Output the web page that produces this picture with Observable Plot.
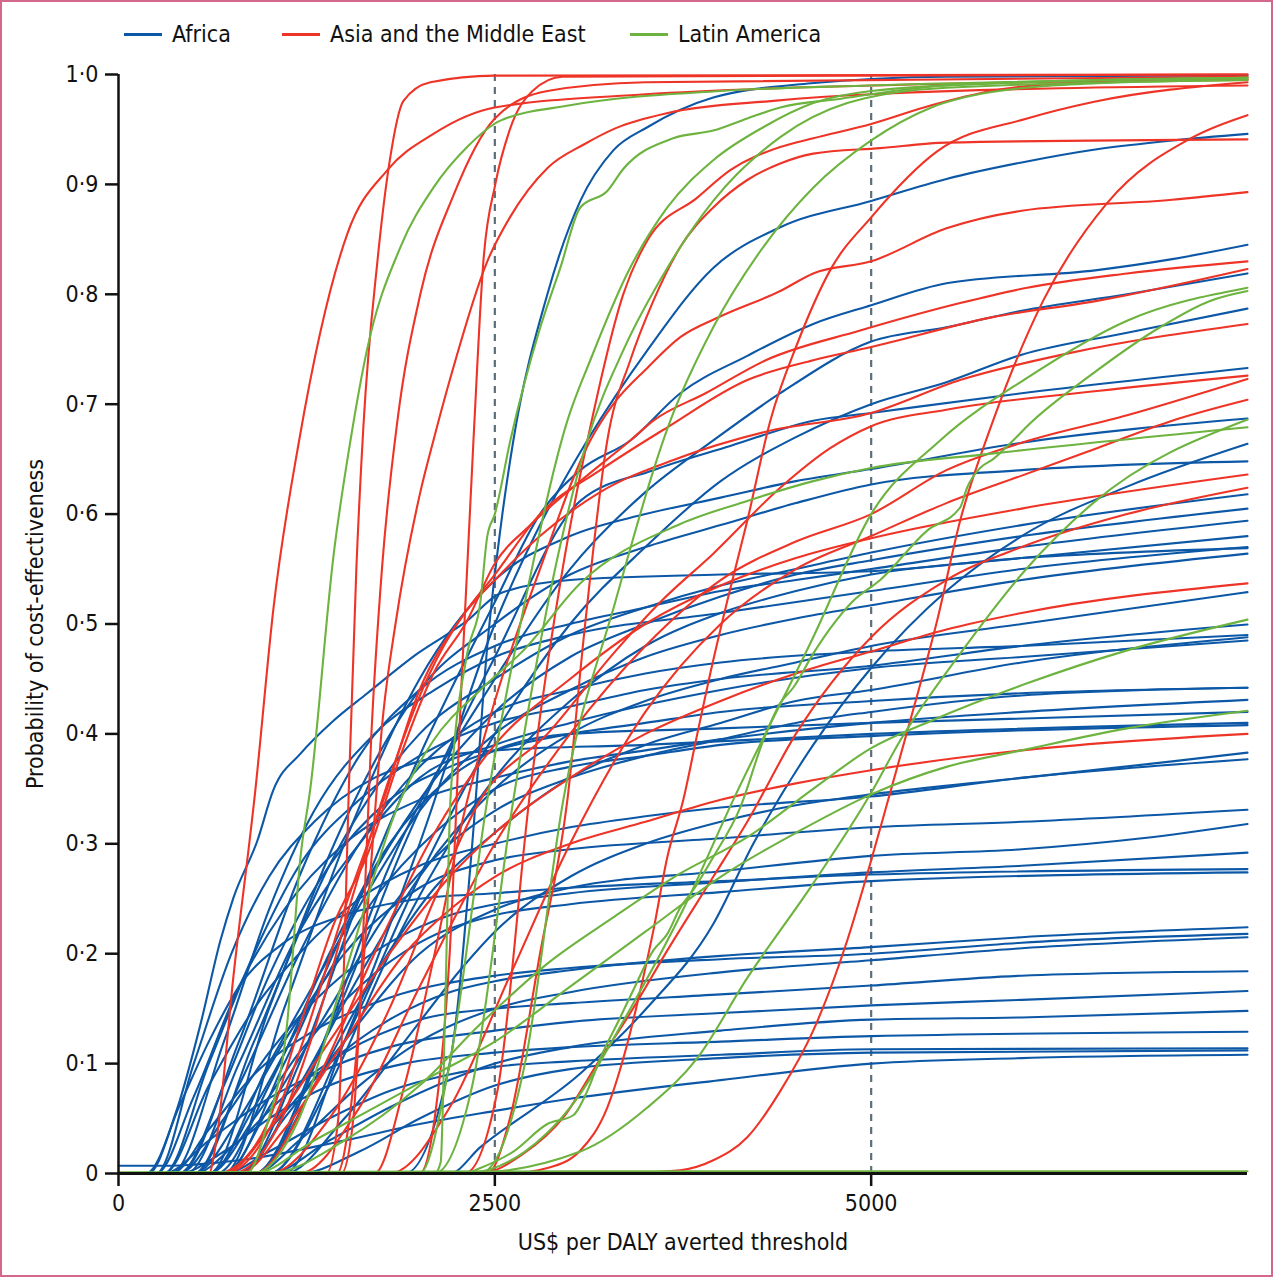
<!DOCTYPE html>
<html><head><meta charset="utf-8">
<script src="https://cdn.jsdelivr.net/npm/d3@7"></script>
<script src="https://cdn.jsdelivr.net/npm/@observablehq/plot@0.6"></script>
<style>
body{margin:0;background:#fff;}
#wrap{position:relative;width:1273px;height:1277px;overflow:hidden;background:#fff;font-family:"DejaVu Sans Condensed","Liberation Sans Narrow",sans-serif;color:#111;}
#frame{position:absolute;left:0;top:0;width:1273px;height:1277px;box-sizing:border-box;border:2px solid #d3688a;pointer-events:none;}
#legend{position:absolute;left:0;top:0;width:1273px;height:56px;}
.item{position:absolute;top:18px;height:32px;display:flex;align-items:center;font-size:23px;}
.sw{display:inline-block;width:38px;height:3px;margin-right:10px;}
#chart{position:absolute;left:0;top:56px;}
</style></head>
<body><div id="wrap"><div id="legend"></div><div id="chart"></div><div id="frame"></div></div>
<script>
const regions = ["Africa", "Asia and the Middle East", "Latin America"];
const regionColors = ["#0d58a6", "#ee3427", "#6db33f"];
const xTicks = [0, 2500, 5000];
const yTicks = [0, 0.1, 0.2, 0.3, 0.4, 0.5, 0.6, 0.7, 0.8, 0.9, 1.0];
const refThresholds = [2500, 5000];

// Africa curves: [threshold, probability] points
const africa = [
 [[1900,0],[2200,0.1],[2350,0.3],[2450,0.48],[2550,0.6],[2623,0.667],[2849,0.8],[3068,0.885],[3287,0.931],[3513,0.952],[3951,0.979],[4600,0.992],[5500,0.998],[7500,0.999]],
 [[1100,0],[1500,0.12],[2000,0.3],[2500,0.5],[2800,0.59],[3114,0.667],[3513,0.749],[3951,0.824],[4396,0.861],[5000,0.885],[5500,0.905],[6000,0.92],[6500,0.932],[7000,0.94],[7500,0.946]],
 [[800,0],[1200,0.1],[1600,0.25],[2000,0.38],[2500,0.52],[2800,0.6],[3068,0.64],[3400,0.667],[3732,0.71],[4177,0.744],[4615,0.773],[5000,0.79],[5500,0.81],[6500,0.822],[7000,0.832],[7500,0.845]],
 [[900,0],[1300,0.1],[1800,0.28],[2500,0.45],[3000,0.55],[3500,0.62],[3951,0.667],[4396,0.71],[5000,0.757],[5500,0.77],[6000,0.785],[6700,0.8],[7500,0.819]],
 [[1000,0],[1500,0.12],[2000,0.27],[2500,0.4],[3000,0.5],[3500,0.57],[4000,0.63],[4500,0.67],[5000,0.70],[5500,0.72],[6000,0.745],[6700,0.765],[7500,0.787]],
 [[900,0],[1400,0.13],[1900,0.3],[2500,0.47],[3068,0.612],[3553,0.64],[4064,0.662],[4615,0.685],[5000,0.692],[6000,0.71],[7500,0.733]],
 [[700,0],[1100,0.15],[1500,0.3],[2000,0.45],[2500,0.54],[3000,0.58],[3500,0.6],[4000,0.615],[4500,0.63],[5000,0.641],[6000,0.665],[7500,0.687]],
 [[600,0],[1000,0.15],[1500,0.32],[2000,0.44],[2500,0.5],[3000,0.545],[3500,0.57],[4000,0.59],[4500,0.61],[5000,0.627],[6000,0.64],[7500,0.648]],
 [[2200,0],[2404,0.024],[3068,0.091],[3513,0.151],[3951,0.227],[4217,0.3],[4615,0.39],[5000,0.46],[5500,0.53],[6000,0.58],[6700,0.625],[7500,0.664]],
 [[500,0],[900,0.12],[1400,0.28],[2000,0.4],[2500,0.45],[3000,0.49],[3500,0.515],[4000,0.535],[4500,0.55],[5000,0.565],[6000,0.59],[7500,0.618]],
 [[700,0],[1100,0.1],[1600,0.25],[2000,0.34],[2500,0.42],[3000,0.47],[3500,0.5],[4000,0.525],[4500,0.545],[5000,0.558],[6000,0.58],[7500,0.605]],
 [[400,0],[800,0.12],[1200,0.27],[1600,0.38],[2000,0.44],[2500,0.48],[3000,0.5],[3500,0.515],[4000,0.53],[4500,0.54],[5000,0.55],[6000,0.57],[7500,0.594]],
 [[1000,0],[1400,0.08],[1800,0.2],[2200,0.3],[2500,0.36],[3000,0.43],[3500,0.48],[4000,0.51],[4500,0.53],[5000,0.545],[6000,0.56],[7500,0.58]],
 [[180,0],[392,0.06],[545,0.136],[677,0.212],[764,0.251],[923,0.303],[1029,0.349],[1209,0.382],[1428,0.412],[1653,0.437],[1985,0.473],[2317,0.503],[2537,0.528],[3000,0.54],[4000,0.545],[5000,0.548],[6000,0.56],[7500,0.569]],
 [[600,0],[1000,0.1],[1500,0.22],[2000,0.33],[2500,0.4],[3000,0.44],[3500,0.47],[4000,0.49],[4500,0.505],[5000,0.517],[6000,0.54],[7500,0.564]],
 [[800,0],[1200,0.08],[1600,0.18],[2000,0.27],[2500,0.35],[3000,0.4],[3500,0.43],[4000,0.45],[4500,0.465],[5000,0.48],[6000,0.5],[7500,0.529]],
 [[300,0],[600,0.1],[900,0.2],[1200,0.28],[1600,0.34],[2000,0.38],[2500,0.41],[3000,0.425],[3500,0.44],[4000,0.45],[5000,0.462],[6000,0.48],[7500,0.4995]],
 [[500,0],[800,0.08],[1200,0.2],[1600,0.3],[2000,0.37],[2500,0.42],[3000,0.44],[3500,0.455],[4000,0.465],[5000,0.475],[6000,0.48],[7500,0.49]],
 [[900,0],[1300,0.08],[1700,0.18],[2100,0.26],[2500,0.31],[3000,0.36],[3500,0.39],[4000,0.41],[4500,0.43],[5000,0.44],[6000,0.465],[7500,0.488]],
 [[400,0],[700,0.08],[1000,0.18],[1400,0.28],[1800,0.34],[2200,0.37],[2500,0.385],[3000,0.4],[3500,0.41],[4000,0.42],[5000,0.43],[6000,0.437],[7500,0.442]],
 [[700,0],[1000,0.06],[1400,0.15],[1800,0.24],[2200,0.3],[2500,0.33],[3000,0.36],[3500,0.38],[4000,0.395],[4500,0.41],[5000,0.42],[6000,0.435],[7500,0.442]],
 [[250,0],[500,0.07],[800,0.17],[1100,0.24],[1500,0.3],[2000,0.34],[2500,0.36],[3000,0.375],[3500,0.385],[4000,0.395],[5000,0.41],[6000,0.42],[7500,0.431]],
 [[600,0],[900,0.06],[1300,0.16],[1700,0.25],[2100,0.31],[2500,0.35],[3000,0.37],[3500,0.38],[4000,0.39],[5000,0.398],[7500,0.408]],
 [[1100,0],[1500,0.05],[1900,0.12],[2300,0.19],[2500,0.22],[3000,0.27],[3500,0.3],[4000,0.32],[4500,0.335],[5000,0.345],[6000,0.36],[7000,0.375],[7500,0.383]],
 [[300,0],[600,0.08],[900,0.15],[1200,0.2],[1600,0.25],[2000,0.28],[2500,0.3],[3000,0.315],[3500,0.325],[4000,0.333],[5000,0.343],[6000,0.36],[7500,0.377]],
 [[500,0],[800,0.05],[1100,0.12],[1500,0.2],[2000,0.26],[2500,0.285],[3000,0.295],[4000,0.305],[5000,0.315],[6000,0.32],[7500,0.331]],
 [[800,0],[1100,0.05],[1500,0.12],[2000,0.2],[2500,0.24],[3000,0.26],[4000,0.275],[5000,0.289],[6000,0.295],[6800,0.305],[7500,0.318]],
 [[400,0],[700,0.05],[1000,0.11],[1400,0.17],[1800,0.21],[2200,0.235],[2500,0.245],[3000,0.255],[4000,0.265],[5000,0.274],[6000,0.28],[7500,0.292]],
 [[200,0],[400,0.06],[600,0.12],[800,0.17],[1100,0.21],[1500,0.235],[2000,0.25],[2500,0.255],[3000,0.26],[4000,0.266],[5000,0.272],[7500,0.277]],
 [[600,0],[900,0.05],[1200,0.11],[1600,0.17],[2000,0.21],[2500,0.235],[3000,0.245],[4000,0.256],[5000,0.266],[7500,0.274]],
 [[700,0],[1000,0.04],[1400,0.1],[1800,0.14],[2200,0.165],[2500,0.175],[3000,0.185],[4000,0.198],[5000,0.206],[6000,0.215],[7500,0.224]],
 [[350,0],[600,0.04],[900,0.09],[1300,0.13],[1800,0.16],[2500,0.18],[3000,0.187],[4000,0.195],[5000,0.2],[6000,0.21],[7500,0.218]],
 [[900,0],[1200,0.03],[1600,0.08],[2000,0.12],[2500,0.15],[3000,0.165],[4000,0.183],[5000,0.194],[6000,0.205],[7500,0.215]],
 [[500,0],[800,0.03],[1100,0.07],[1500,0.11],[2000,0.14],[2500,0.15],[3000,0.155],[4000,0.163],[5000,0.171],[6000,0.18],[7500,0.184]],
 [[300,0],[600,0.03],[900,0.06],[1300,0.09],[1800,0.115],[2500,0.13],[3000,0.138],[4000,0.146],[5000,0.153],[6000,0.158],[7500,0.166]],
 [[1000,0],[1400,0.03],[1800,0.06],[2200,0.085],[2500,0.1],[3000,0.115],[4000,0.13],[5000,0.14],[6000,0.142],[7500,0.148]],
 [[400,0],[700,0.02],[1000,0.05],[1400,0.08],[1900,0.1],[2500,0.11],[3000,0.115],[4000,0.12],[5000,0.125],[7500,0.129]],
 [[700,0],[1000,0.02],[1400,0.05],[1800,0.075],[2200,0.09],[2500,0.097],[3000,0.102],[4000,0.108],[5000,0.113],[7500,0.114]],
 [[1200,0],[1600,0.02],[2000,0.05],[2500,0.08],[3000,0.095],[4000,0.105],[5000,0.11],[7500,0.112]],
 [[0,0.007],[300,0.007],[800,0.012],[1500,0.03],[2000,0.045],[2500,0.057],[3000,0.068],[4000,0.085],[5000,0.1],[6000,0.105],[7500,0.108]],
 [[350,0],[700,0.12],[1000,0.24],[1300,0.33],[1700,0.4],[2100,0.44],[2500,0.47],[3000,0.49],[4000,0.51],[5000,0.53],[6000,0.55],[7500,0.57]],
 [[450,0],[800,0.1],[1200,0.22],[1600,0.3],[2000,0.36],[2500,0.39],[3000,0.41],[4000,0.44],[5000,0.46],[6000,0.47],[7500,0.485]],
 [[650,0],[1000,0.08],[1400,0.2],[1800,0.3],[2200,0.36],[2500,0.385],[3000,0.4],[4000,0.405],[5000,0.41],[7500,0.42]],
 [[250,0],[500,0.1],[750,0.2],[1000,0.27],[1300,0.32],[1700,0.36],[2000,0.375],[2500,0.385],[3500,0.39],[5000,0.4],[7500,0.41]]
];

// Asia and the Middle East curves
const asia = [
 [[600,0],[650,0.03],[764,0.18],[910,0.35],[1030,0.515],[1200,0.667],[1520,0.855],[1786,0.913],[2092,0.946],[2500,0.97],[3500,0.982],[5000,0.99],[7500,0.995]],
 [[1380,0],[1460,0.05],[1500,0.2],[1530,0.35],[1580,0.55],[1627,0.68],[1720,0.83],[1800,0.92],[1893,0.976],[2072,0.993],[2500,0.999],[7500,1.0]],
 [[1480,0],[1560,0.05],[1620,0.2],[1680,0.4],[1750,0.55],[1853,0.685],[2005,0.8],[2225,0.89],[2500,0.96],[2850,0.985],[3500,0.993],[7500,0.998]],
 [[1450,0],[1560,0.08],[1660,0.25],[1760,0.42],[1840,0.5],[2005,0.62],[2092,0.667],[2205,0.724],[2450,0.83],[2600,0.87],[2850,0.915],[3100,0.937],[3300,0.951],[3650,0.965],[4350,0.976],[5000,0.982],[7500,0.99]],
 [[2000,0],[2100,0.05],[2200,0.2],[2280,0.45],[2358,0.667],[2424,0.83],[2503,0.9],[2600,0.95],[2750,0.985],[2950,0.998],[7500,1.0]],
 [[2450,0],[2600,0.05],[2800,0.2],[2982,0.34],[3100,0.5],[3247,0.667],[3400,0.74],[3553,0.794],[3732,0.843],[3951,0.879],[4177,0.904],[4396,0.919],[4615,0.928],[5060,0.933],[5500,0.938],[7500,0.941]],
 [[2300,0],[2517,0.075],[2736,0.349],[2950,0.55],[3134,0.679],[3353,0.8],[3513,0.849],[3845,0.888],[4064,0.913],[4396,0.934],[4615,0.942],[5000,0.955],[5400,0.972],[5800,0.985],[6300,0.992],[7500,0.996]],
 [[2600,0],[2849,0.005],[3068,0.021],[3247,0.06],[3380,0.118],[3467,0.167],[3553,0.221],[3646,0.288],[3752,0.34],[3845,0.4],[3931,0.455],[4044,0.521],[4177,0.594],[4330,0.685],[4509,0.755],[4728,0.822],[5000,0.87],[5438,0.93],[6036,0.96],[6474,0.975],[7500,0.993]],
 [[3300,0],[3732,0.003],[3951,0.012],[4177,0.033],[4396,0.075],[4615,0.13],[4841,0.212],[4994,0.282],[5113,0.34],[5259,0.412],[5438,0.503],[5591,0.594],[5810,0.685],[6142,0.794],[6567,0.883],[7138,0.943],[7500,0.963]],
 [[1700,0],[1900,0.08],[2100,0.2],[2300,0.33],[2500,0.43],[2800,0.55],[3134,0.667],[3287,0.7],[3513,0.733],[3732,0.761],[4000,0.78],[4396,0.803],[4615,0.819],[5000,0.83],[5500,0.86],[6000,0.876],[7000,0.886],[7500,0.893]],
 [[650,0],[764,0.005],[988,0.045],[1209,0.136],[1430,0.227],[1653,0.29],[1873,0.38],[2092,0.455],[2316,0.503],[2500,0.555],[2736,0.59],[3068,0.63],[3400,0.667],[3553,0.685],[3900,0.71],[4300,0.74],[4927,0.767],[5591,0.792],[6036,0.806],[6700,0.819],[7500,0.83]],
 [[700,0],[1000,0.04],[1250,0.13],[1500,0.24],[1760,0.34],[2000,0.44],[2300,0.51],[2500,0.545],[2800,0.6],[3200,0.64],[3646,0.679],[4177,0.722],[4615,0.74],[5000,0.752],[5800,0.779],[6500,0.794],[7500,0.823]],
 [[750,0],[1050,0.04],[1300,0.13],[1550,0.25],[1800,0.36],[2050,0.45],[2300,0.51],[2500,0.54],[2800,0.58],[3200,0.62],[3700,0.65],[4300,0.675],[5000,0.692],[5591,0.722],[6300,0.746],[7500,0.773]],
 [[1000,0],[1400,0.05],[1800,0.15],[2100,0.25],[2404,0.34],[2849,0.4],[3287,0.473],[3600,0.52],[3951,0.564],[4396,0.624],[4728,0.66],[5000,0.68],[5500,0.695],[6500,0.712],[7500,0.726]],
 [[1200,0],[1600,0.06],[2000,0.17],[2500,0.3],[3000,0.4],[3500,0.48],[4000,0.54],[4500,0.575],[5000,0.6],[5500,0.64],[6000,0.665],[6700,0.69],[7500,0.723]],
 [[1800,0],[2200,0.06],[2600,0.18],[3000,0.3],[3500,0.42],[4000,0.5],[4500,0.55],[5000,0.58],[5500,0.61],[6000,0.635],[6500,0.66],[7000,0.685],[7500,0.704]],
 [[900,0],[1300,0.08],[1700,0.2],[2100,0.31],[2500,0.39],[3000,0.45],[3500,0.5],[4000,0.535],[4500,0.56],[5000,0.578],[6000,0.605],[7500,0.636]],
 [[2400,0],[2690,0.018],[2955,0.051],[3181,0.1],[3400,0.146],[3646,0.203],[3951,0.27],[4177,0.32],[4500,0.4],[5000,0.488],[5500,0.54],[6000,0.57],[6700,0.6],[7500,0.624]],
 [[700,0],[1000,0.04],[1400,0.12],[1800,0.2],[2200,0.27],[2500,0.31],[3000,0.36],[3500,0.4],[4000,0.43],[4500,0.455],[5000,0.475],[5500,0.495],[6000,0.51],[7500,0.537]],
 [[800,0],[1100,0.04],[1500,0.12],[1900,0.2],[2200,0.24],[2500,0.27],[3000,0.3],[3500,0.32],[4000,0.34],[4500,0.355],[5000,0.367],[6000,0.385],[7500,0.40]]
];

// Latin America curves
const latinAmerica = [
 [[850,0],[988,0.045],[1120,0.136],[1209,0.288],[1275,0.351],[1430,0.564],[1541,0.667],[1650,0.749],[1873,0.843],[2092,0.897],[2316,0.934],[2537,0.958],[3000,0.972],[4000,0.985],[5000,0.99],[7500,0.997]],
 [[2100,0],[2140,0.01],[2170,0.15],[2205,0.34],[2316,0.473],[2404,0.52],[2450,0.58],[2500,0.6],[2603,0.667],[2802,0.77],[2935,0.824],[3068,0.879],[3247,0.894],[3353,0.914],[3685,0.942],[3951,0.949],[4177,0.96],[4396,0.97],[4800,0.978],[5500,0.99],[7500,0.997]],
 [[2000,0],[2200,0.1],[2450,0.34],[2700,0.52],[2982,0.685],[3134,0.74],[3380,0.819],[3646,0.879],[3951,0.922],[4283,0.952],[4615,0.974],[5000,0.985],[6000,0.993],[7500,0.997]],
 [[2100,0],[2350,0.08],[2623,0.34],[2900,0.55],[3114,0.667],[3353,0.749],[3646,0.824],[3951,0.885],[4396,0.943],[4841,0.974],[5500,0.988],[7500,0.995]],
 [[2400,0],[2700,0.1],[2955,0.34],[3300,0.52],[3666,0.685],[3951,0.77],[4283,0.843],[4615,0.897],[5000,0.94],[5400,0.97],[5800,0.984],[6500,0.992],[7500,0.995]],
 [[2300,0],[2404,0.005],[2623,0.02],[2849,0.045],[3021,0.053],[3114,0.075],[3201,0.105],[3333,0.142],[3420,0.167],[3553,0.203],[3646,0.218],[3732,0.242],[3818,0.258],[3951,0.288],[4130,0.333],[4283,0.394],[4396,0.428],[4482,0.442],[4615,0.473],[4728,0.496],[4880,0.521],[5060,0.54],[5372,0.585],[5591,0.606],[5637,0.624],[5724,0.642],[5810,0.65],[5943,0.667],[6036,0.68],[6474,0.728],[6919,0.77],[7251,0.794],[7500,0.803]],
 [[2300,0],[2700,0.02],[3000,0.06],[3400,0.15],[3750,0.24],[4084,0.34],[4615,0.488],[5000,0.6],[5458,0.667],[6036,0.724],[6700,0.776],[7500,0.806]],
 [[2300,0],[3068,0.02],[3513,0.06],[3845,0.105],[4177,0.178],[4615,0.264],[4994,0.345],[5193,0.394],[5591,0.473],[6036,0.551],[6474,0.61],[7500,0.686]],
 [[900,0],[1200,0.05],[1500,0.18],[1873,0.34],[2092,0.394],[2404,0.44],[2690,0.476],[3068,0.537],[3732,0.591],[4177,0.612],[4615,0.63],[5000,0.642],[5800,0.655],[7500,0.679]],
 [[1000,0],[1500,0.03],[2000,0.08],[2404,0.136],[2849,0.191],[3287,0.233],[3732,0.273],[4177,0.306],[4615,0.35],[5000,0.387],[5400,0.412],[6036,0.446],[6700,0.476],[7500,0.504]],
 [[900,0],[1300,0.03],[1700,0.06],[2100,0.09],[2500,0.12],[3000,0.17],[3500,0.22],[4000,0.27],[4500,0.31],[5000,0.345],[5500,0.37],[6000,0.385],[6700,0.405],[7500,0.421]],
 [[0,0.001],[3000,0.002],[7500,0.002]]
];

const groups = [africa, asia, latinAmerica];
const rows = [];
groups.forEach((curves, gi) => {
  curves.forEach((pts, ci) => {
    const full = pts[0][0] > 0 ? [[0, pts[0][1]], ...pts] : pts;
    full.forEach(([x, p]) => rows.push({region: regions[gi], id: gi + "-" + ci, x, p}));
  });
});

// legend
const legendLeft = [124, 282, 630];
const legend = document.getElementById("legend");
regions.forEach((r, i) => {
  const it = document.createElement("div");
  it.className = "item";
  it.style.left = legendLeft[i] + "px";
  it.innerHTML = `<span class="sw" style="background:${regionColors[i]}"></span><span>${r}</span>`;
  legend.appendChild(it);
});

const font = '"DejaVu Sans Condensed","Liberation Sans Narrow",sans-serif';
const fmtY = d => d === 0 ? "0" : d3.format(".1f")(d).replace(".", "\u00b7");

const chart = Plot.plot({
  width: 1273, height: 1221,
  marginTop: 18, marginLeft: 118, marginRight: 26, marginBottom: 104,
  style: {fontFamily: font, fontSize: "22px", color: "#111", background: "transparent", overflow: "visible"},
  x: {domain: [0, 7500]},
  y: {domain: [0, 1]},
  color: {domain: regions, range: regionColors},
  marks: [
    Plot.ruleX(refThresholds, {stroke: "#5c6e79", strokeWidth: 2.2, strokeDasharray: "7,6"}),
    ...regions.map(r => Plot.line(rows.filter(d => d.region === r), {x: "x", y: "p", z: "id", stroke: "region", strokeWidth: 2.1, curve: "monotone-x"})),
    Plot.ruleY([0], {stroke: "#111", strokeWidth: 3}),
    Plot.ruleX([0], {stroke: "#111", strokeWidth: 2.5}),
    Plot.axisX({ticks: xTicks, tickSize: 13, tickPadding: 8, strokeWidth: 2.5, tickFormat: d => String(d), label: "US$ per DALY averted threshold", labelAnchor: "center", labelArrow: "none", labelOffset: 76, fontSize: 23}),
    Plot.axisY({ticks: yTicks, tickSize: 13, tickPadding: 7, strokeWidth: 2.5, tickFormat: fmtY, label: "Probability of cost-effectiveness", labelAnchor: "center", labelArrow: "none", labelOffset: 92, fontSize: 23})
  ]
});
document.getElementById("chart").appendChild(chart);
</script>
</body></html>
